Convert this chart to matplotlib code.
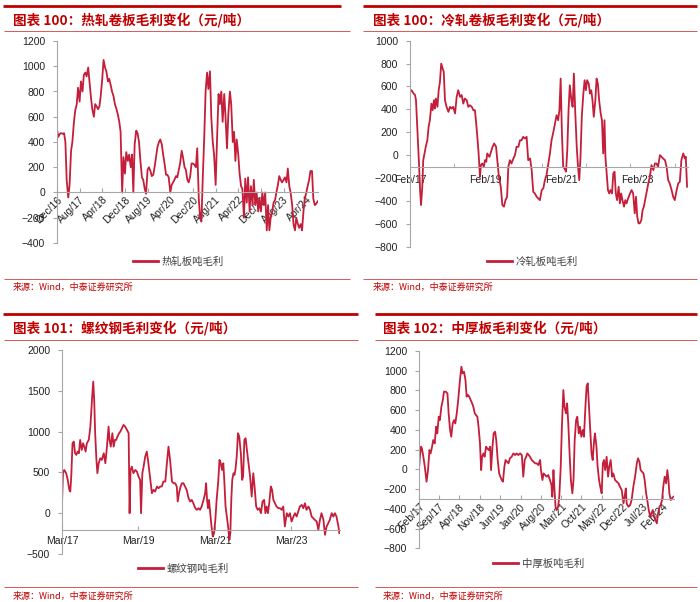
import numpy as np
import pandas as pd
import matplotlib
matplotlib.use('Agg')
import matplotlib.pyplot as plt
from matplotlib.lines import Line2D

plt.rcParams['font.family'] = ['Liberation Sans', 'Noto Sans CJK SC', 'DejaVu Sans']
CJK = ['Noto Sans CJK SC', 'DejaVu Sans']

RED = '#C00000'
LINE_RED = '#C41E3A'
THIN_RED = '#D85A5A'
GRAY = '#A6A6A6'

# ---- data ----
# hot rolled coil, semi-monthly from Dec 2016
hot_start = '2016-12-01'
hot_margin = [
    500, 440, 465, 470, 465, 470, 400, 100, -40, 60, 330, 400, 560, 650, 700, 830,
    720, 880, 800, 930, 950, 920, 990, 880, 750, 660, 600, 700, 680, 660, 680, 760,
    900, 1050, 990, 960, 880, 900, 850, 800, 760, 700, 660, 620, 560, 480, 0, 280,
    150, 320, 250, 300, 200, 300, 0, 380, 490, 470, 400, 260, 120, 100, 30, -10,
    180, 200, 170, 130, 140, 200, 290, 360, 400, 420, 380, 300, 220, 140, 140, 120,
    0, 60, 80, 100, 130, 120, 180, 230, 330, 280, 200, 180, 100, 80, 130, 230,
    230, 220, 200, 350, -50, -200, -230, 100, 450, 800, 950, 820, 960, 600, 400, 300,
    60, 400, 780, 700, 800, 560, 780, 600, 350, 620, 800, 700, 400, 480, 250, 420,
    300, 150, 50, 30, -200, 110, -80, 120, -150, 50, -100, 100, -100, 0, -150, -50,
    -150, 0, -100, 0, -300, -100, -300, -200, -150, -80, -60, 0, 60, 130, 100, 80,
    100, 120, 80, 190, 50, 0, -100, -250, -300, -200, -250, -280, -250, -300, -150, -50,
    0, 50, 100, 170, 170, -50, -100, -90, -70,
]

# cold rolled coil, months after Feb 2017
cold_start = '2017-02-01'
cold_months = [
    0.0, 0.5, 1.1, 1.6, 1.9, 2.4, 2.9, 3.2, 3.5, 3.9, 4.2, 4.5, 5.0, 5.5, 5.9, 6.3,
    6.8, 7.2, 7.6, 7.9, 8.2, 8.7, 9.1, 9.5, 9.9, 10.4, 10.7, 11.1, 11.6, 12.2, 12.7, 13.2,
    13.7, 14.3, 14.8, 15.3, 15.9, 16.4, 16.9, 17.4, 18.0, 18.5, 19.0, 19.6, 20.1, 20.6, 21.1, 21.7,
    22.2, 22.5, 22.9, 23.4, 23.8, 24.2, 24.5, 25.2, 25.7, 26.2, 26.7, 27.3, 27.8, 28.2, 28.8, 29.3,
    29.8, 30.3, 30.8, 31.2, 31.7, 32.2, 32.8, 33.3, 33.8, 34.4, 34.9, 35.4, 35.9, 36.5, 37.0, 37.5,
    38.1, 38.6, 39.1, 39.6, 40.2, 40.7, 41.2, 41.8, 42.3, 42.8, 43.3, 43.9, 44.4, 44.9, 45.5, 46.0,
    46.5, 47.0, 47.4, 47.8, 48.2, 48.6, 49.0, 49.5, 49.9, 50.3, 50.7, 51.2, 51.6, 52.0, 52.4, 52.9,
    53.3, 53.7, 54.1, 54.5, 55.0, 55.4, 55.8, 56.2, 56.7, 57.1, 57.5, 57.9, 58.3, 58.8, 59.2, 59.6,
    60.0, 60.5, 60.9, 61.3, 61.7, 62.0, 62.4, 62.8, 63.2, 63.6, 64.1, 64.5, 64.9, 65.3, 65.7, 66.2,
    66.6, 67.0, 67.4, 67.9, 68.3, 68.7, 69.2, 69.8, 70.3, 70.8, 71.3, 71.7, 72.1, 72.5, 72.9, 73.4,
    73.8, 74.2, 74.6, 75.0, 75.6, 76.1, 76.6, 77.2, 77.7, 78.2, 78.7, 79.3, 79.8, 80.3, 80.9, 81.4,
    81.9, 82.4, 83.0, 83.5, 84.0, 84.6, 85.1, 85.6, 86.1, 86.7, 87.2, 87.5, 87.9,
]
cold_margin = [
    553, 567, 540, 525, 480, 190, -100, -305, -436, -276, -44, 0, 73, 130, 247, 305,
    450, 393, 480, 407, 495, 422, 567, 640, 800, 756, 727, 480, 422, 378, 422, 407,
    422, 364, 509, 567, 509, 525, 450, 495, 480, 422, 436, 422, 393, 393, 247, 44,
    -190, -87, -73, -100, -44, -58, 15, -15, 29, 73, 102, 73, -73, -190, -276, -436,
    -450, -393, -364, -102, -44, -73, -29, 0, 73, 73, 130, 130, 160, 145, 160, -44,
    -29, -130, -320, -335, -364, -378, -393, -305, -290, -218, -175, -73, 15, 130, 204, 276,
    349, 305, 393, 669, 189, -102, -116, -145, 44, 393, 611, 480, 422, 713, 393, 73,
    -102, -218, -15, 335, 538, 655, 567, 655, 625, 538, 567, 480, 335, 480, 669, 625,
    480, 364, 305, 15, 305, -15, -160, -305, -335, -305, -335, -160, -145, -335, -393, -276,
    -422, -335, -393, -450, -393, -422, -378, -335, -305, -335, -509, -364, -538, -596, -596, -567,
    -480, -450, -393, -335, -247, -189, -87, -131, -73, -73, -102, 0, -15, -29, -44, -102,
    -218, -247, -305, -364, -393, -305, -247, -233, -44, 15, -29, -15, -276,
]

# rebar, months after Mar 2017
rebar_start = '2017-03-01'
rebar_months = [
    0.0, 0.3, 0.7, 1.3, 1.8, 2.3, 2.6, 2.9, 3.3, 3.7, 4.1, 4.5, 4.9, 5.3, 5.7, 6.2,
    6.6, 7.0, 7.4, 7.8, 8.4, 8.9, 9.4, 9.8, 10.1, 10.4, 10.8, 11.1, 11.5, 12.0, 12.5, 13.1,
    13.6, 14.1, 14.6, 14.9, 15.3, 15.8, 16.2, 16.6, 17.0, 17.4, 17.9, 18.3, 18.8, 19.3, 19.8, 20.4,
    20.9, 21.2, 21.5, 21.9, 22.4, 23.0, 23.5, 24.0, 24.5, 24.8, 25.2, 25.6, 26.1, 26.6, 27.1, 27.7,
    28.2, 28.7, 29.2, 29.8, 30.3, 30.8, 31.3, 31.8, 32.4, 32.9, 33.4, 33.9, 34.5, 35.0, 35.5, 36.0,
    36.3, 36.7, 37.2, 37.6, 38.1, 38.6, 39.1, 39.7, 40.2, 40.7, 41.2, 41.8, 42.3, 42.8, 43.3, 43.8,
    44.4, 44.9, 45.2, 45.5, 45.8, 46.1, 46.5, 46.9, 47.3, 47.7, 48.1, 48.5, 49.0, 49.4, 49.8, 50.2,
    50.6, 50.9, 51.3, 51.7, 52.1, 52.5, 52.8, 53.1, 53.4, 53.8, 54.1, 54.4, 54.8, 55.2, 55.6, 56.1,
    56.5, 56.8, 57.2, 57.6, 58.0, 58.5, 59.0, 59.5, 60.0, 60.4, 60.9, 61.4, 61.9, 62.4, 62.9, 63.4,
    63.8, 64.2, 64.6, 65.0, 65.5, 65.9, 66.3, 66.8, 67.3, 67.9, 68.4, 68.9, 69.4, 69.9, 70.5, 71.0,
    71.5, 72.0, 72.6, 73.1, 73.6, 74.1, 74.6, 75.2, 75.7, 76.2, 76.7, 77.3, 77.8, 78.3, 78.8, 79.3,
    79.9, 80.4, 80.9, 81.4, 82.0, 82.5, 83.0, 83.5, 84.0, 84.6, 85.1, 85.6, 86.1, 86.7, 87.0,
]
rebar_margin = [
    122, 490, 530, 490, 408, 286, 265, 449, 857, 878, 735, 714, 755, 735, 898, 775,
    857, 816, 755, 857, 898, 1061, 1388, 1612, 1388, 980, 653, 490, 612, 673, 653, 735,
    612, 816, 1061, 898, 816, 980, 816, 898, 898, 939, 980, 1000, 1041, 1082, 1061, 1020,
    980, 0, 530, 571, 490, 530, 510, 449, 408, 0, 490, 571, 694, 755, 612, 408,
    245, 286, 265, 327, 306, 327, 327, 388, 388, 612, 816, 653, 388, 367, 367, 327,
    143, 245, 327, 367, 367, 327, 286, 184, 143, 163, 122, 61, 41, 61, 41, 82,
    163, 245, 367, 163, 61, 163, 0, -163, -286, -245, -82, 163, 388, 653, 612, 530,
    612, 408, 82, -41, -163, -327, -245, 163, 408, 490, 469, 530, 694, 980, 939, 735,
    408, 449, 898, 918, 775, 612, 449, 204, 490, 327, 82, 41, 61, 0, 143, 163,
    0, 82, 0, 122, 327, 286, 163, 122, 82, 61, 61, 41, 82, -163, 0, -41,
    0, -102, -41, 0, -41, 20, 82, 102, 61, 122, 41, 82, 41, -41, -61, -82,
    -102, -204, -82, 0, -82, -265, -163, -122, -82, 0, -41, 0, -41, -163, -245,
]

# medium-heavy plate, months after Feb 2017
plate_start = '2017-02-01'
plate_months = [
    0.0, 0.3, 0.7, 1.0, 1.5, 2.0, 2.4, 2.6, 3.1, 3.6, 4.0, 4.5, 4.9, 5.4, 5.9, 6.3,
    6.8, 7.2, 7.7, 8.2, 8.6, 9.2, 9.8, 10.2, 10.7, 11.1, 11.6, 12.1, 12.5, 13.0, 13.5, 14.1,
    14.6, 15.0, 15.5, 16.0, 16.4, 16.9, 17.3, 17.8, 18.3, 18.7, 19.2, 19.6, 20.1, 20.5, 21.0, 21.4,
    21.7, 22.2, 22.6, 23.1, 23.5, 24.0, 24.5, 24.8, 25.3, 25.7, 26.2, 26.6, 27.1, 27.6, 28.0, 28.5,
    28.9, 29.4, 29.8, 30.3, 30.8, 31.3, 31.9, 32.5, 33.1, 33.6, 34.2, 34.8, 35.4, 35.9, 36.4, 36.9,
    37.3, 37.8, 38.2, 38.8, 39.4, 40.0, 40.5, 41.1, 41.7, 42.0, 42.5, 42.9, 43.4, 44.0, 44.5, 45.1,
    45.6, 45.9, 46.3, 46.6, 47.0, 47.4, 47.9, 48.3, 48.8, 49.2, 49.7, 50.1, 50.6, 51.0, 51.4, 51.9,
    52.3, 52.8, 53.2, 53.6, 54.1, 54.5, 55.0, 55.4, 55.9, 56.4, 56.8, 57.3, 57.7, 58.1, 58.4, 58.9,
    59.4, 59.8, 60.3, 60.6, 61.1, 61.5, 62.0, 62.4, 62.9, 63.3, 63.7, 64.1, 64.6, 65.1, 65.5, 66.0,
    66.5, 66.9, 67.5, 68.1, 68.7, 69.2, 69.8, 70.4, 70.8, 71.2, 71.5, 72.1, 72.7, 73.2, 73.8, 74.4,
    75.0, 75.4, 75.9, 76.3, 76.8, 77.3, 77.7, 78.2, 78.6, 79.1, 79.6, 80.0, 80.5, 80.9, 81.4, 81.9,
    82.3, 82.8, 83.2, 83.7, 84.1, 84.6, 85.1, 85.5, 85.9, 86.2, 86.7, 87.1, 87.6,
]
plate_margin = [
    0, 128, 230, 213, 128, 27, -74, -125, -7, 196, 162, 230, 297, 264, 433, 365,
    534, 500, 635, 703, 788, 788, 770, 568, 399, 331, 466, 500, 466, 568, 703, 906,
    1041, 973, 990, 906, 737, 754, 737, 703, 669, 635, 568, 551, 534, 433, 264, -7,
    128, 162, 128, 230, 213, 196, 230, -7, 230, 365, 382, 297, 95, -41, -74, -108,
    -125, 27, 95, 78, 61, 112, 128, 162, 145, 162, 145, 162, 145, -74, 95, 128,
    162, 145, 128, 95, 78, 61, 61, 44, 95, -7, -108, -41, -57, -74, -57, -108,
    -159, -277, -7, -176, -379, -412, -379, -277, 27, 433, 804, 635, 568, 669, 466, 128,
    -108, -243, -108, 297, 500, 534, 365, 433, 331, 399, 331, 635, 838, 872, 703, 433,
    162, 95, 297, 365, 230, 27, -108, -176, -243, 61, 95, -7, 128, -74, 27, 95,
    -74, -41, -108, -125, -142, -176, -210, -345, -277, -193, -345, -379, -362, -311, -176, -74,
    61, 112, 78, -7, -24, -41, -108, -243, -311, -412, -480, -446, -412, -480, -514, -547,
    -446, -379, -362, -311, -176, -74, -142, -7, -108, -243, -311, -294, -277,
]


def month_dates(start, months):
    return pd.Timestamp(start) + pd.to_timedelta(np.array(months) * 30.4375, unit='D')


W, H = 700, 602
fig = plt.figure(figsize=(W / 100, H / 100), dpi=100)


def px_axes(x0, x1, ytop, ybot):
    return fig.add_axes([x0 / W, 1 - ybot / H, (x1 - x0) / W, (ybot - ytop) / H])


def hline(x0, x1, y, lw, color):
    fig.add_artist(Line2D([x0 / W, x1 / W], [1 - y / H, 1 - y / H], lw=lw, color=color,
                          transform=fig.transFigure, solid_capstyle='butt'))


def style_axes(ax, ylim, ystep, base, rotated, pad):
    ax.set_ylim(*ylim)
    ax.set_yticks(np.arange(ylim[0], ylim[1] + 1, ystep))
    for s in ['top', 'right']:
        ax.spines[s].set_visible(False)
    ax.spines['left'].set_color(GRAY)
    ax.spines['bottom'].set_color(GRAY)
    ax.spines['bottom'].set_position(('data', base))
    ax.tick_params(axis='y', direction='out', length=3, color=GRAY, labelsize=7.5, pad=5.5,
                   labelcolor='#222222')
    ax.tick_params(axis='x', direction='in', length=3, color=GRAY, labelsize=7.5, pad=pad,
                   labelcolor='#222222')
    ax.tick_params(axis='x', which='minor', direction='in', length=3, color=GRAY)
    if rotated:
        for lab in ax.get_xticklabels():
            lab.set_rotation(45)
            lab.set_ha('right')
            lab.set_rotation_mode('anchor')
    ax.patch.set_alpha(0)


def add_legend(ax, label, x, y):
    h = Line2D([], [], color=LINE_RED, lw=2)
    ax.legend([h], [label], loc='center left', bbox_to_anchor=(x / W, 1 - y / H),
              bbox_transform=fig.transFigure, frameon=False, borderpad=0, borderaxespad=0,
              handlelength=2.4, handletextpad=0.35,
              prop={'family': CJK, 'size': 7.5}, labelcolor='#404040')


def set_dates(ax, ticks, fmt='%b/%y'):
    ax.set_xticks(list(ticks.to_pydatetime()))
    ax.set_xticklabels([t.strftime(fmt) for t in ticks])


# ---- panel 1: hot rolled ----
ax1 = px_axes(57, 318, 41, 243)
hot_dates = pd.date_range(hot_start, periods=len(hot_margin), freq='SMS')
ax1.plot(hot_dates, hot_margin, color=LINE_RED, lw=1.3)
ax1.set_xlim(pd.Timestamp(hot_start), month_dates(hot_start, [92.1])[0])
set_dates(ax1, pd.date_range('2016-12-01', periods=12, freq='8MS'))
style_axes(ax1, (-400, 1200), 200, 0, True, 1.5)
add_legend(ax1, '热轧板吨毛利', 133, 262)

# ---- panel 2: cold rolled ----
ax2 = px_axes(410, 688, 40.7, 246.7)
ax2.plot(month_dates(cold_start, cold_months), cold_margin, color=LINE_RED, lw=1.3)
ax2.set_xlim(pd.Timestamp(cold_start), month_dates(cold_start, [88.2])[0])
set_dates(ax2, pd.date_range('2017-02-01', periods=4, freq='24MS'))
ax2.set_xticks(list(pd.date_range('2018-04-01', periods=6, freq='14MS').to_pydatetime()),
               minor=True)
style_axes(ax2, (-800, 1000), 200, -100, False, 6)
ax2.tick_params(axis='x', which='major', length=0)
add_legend(ax2, '冷轧板吨毛利', 487, 262)

# ---- panel 3: rebar ----
ax3 = px_axes(62, 340, 350, 554)
ax3.plot(month_dates(rebar_start, rebar_months), rebar_margin, color=LINE_RED, lw=1.3)
ax3.set_xlim(pd.Timestamp(rebar_start), month_dates(rebar_start, [87.2])[0])
set_dates(ax3, pd.date_range('2017-03-01', periods=4, freq='24MS'))
style_axes(ax3, (-500, 2000), 500, -200, False, 5)
add_legend(ax3, '螺纹钢吨毛利', 138, 569)

# ---- panel 4: plate ----
ax4 = px_axes(419, 674, 351, 548.3)
ax4.plot(month_dates(plate_start, plate_months), plate_margin, color=LINE_RED, lw=1.3)
ax4.set_xlim(pd.Timestamp(plate_start), month_dates(plate_start, [87.8])[0])
set_dates(ax4, pd.date_range('2017-02-01', periods=13, freq='7MS'))
style_axes(ax4, (-800, 1200), 200, -300, True, 2)
add_legend(ax4, '中厚板吨毛利', 493, 564)

# ---- titles, rules and sources ----
titles = [
    ('图表 100：热轧卷板毛利变化（元/吨）', 13, 20),
    ('图表 100：冷轧卷板毛利变化（元/吨）', 373, 20),
    ('图表 101：螺纹钢毛利变化（元/吨）', 13, 328),
    ('图表 102：中厚板毛利变化（元/吨）', 383, 328),
]
for text, x, y in titles:
    fig.text(x / W, 1 - y / H, text, color=RED, fontsize=9.8, fontweight='bold',
             family=CJK, va='center', ha='left')

source = '来源：Wind，中泰证券研究所'
for x, y in [(13, 287), (373, 287), (13, 596), (383, 596)]:
    fig.text(x / W, 1 - y / H, source, color=RED, fontsize=6.5, family=CJK,
             va='center', ha='left')

# thick rules
hline(3, 341, 6, 2.0, RED)
hline(363, 697, 6, 2.0, RED)
hline(3, 358, 314.3, 2.0, RED)
hline(375, 697, 314.3, 2.0, RED)
# thin rules under titles and above sources
for y in [31, 279]:
    hline(4, 350, y, 0.7, THIN_RED)
    hline(363, 697, y, 0.7, THIN_RED)
for y in [339.5, 587.3]:
    hline(4, 358, y, 0.7, THIN_RED)
    hline(375, 697, y, 0.7, THIN_RED)

fig.savefig('out.png', dpi=100)
